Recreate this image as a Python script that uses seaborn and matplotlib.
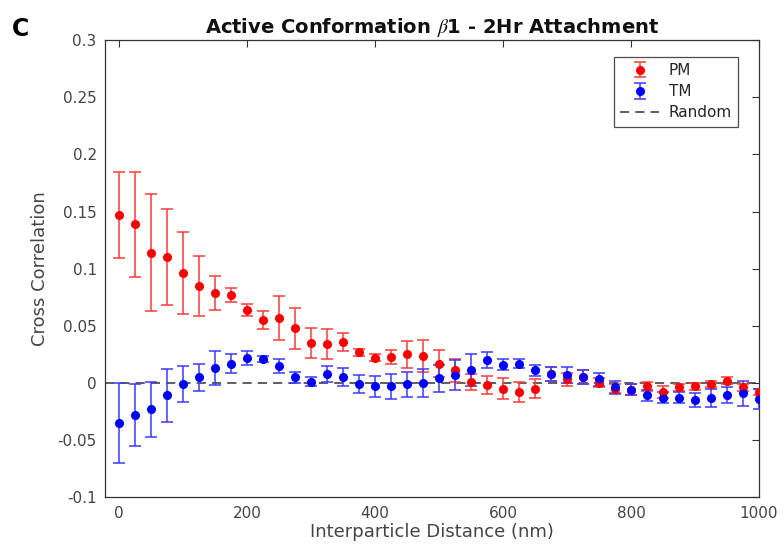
import numpy as np
import pandas as pd
import seaborn as sns
import matplotlib.pyplot as plt
from matplotlib.ticker import FormatStrFormatter

# interparticle distance bins (nm)
distance = [0, 25, 50, 75, 100, 125, 150, 175, 200, 225, 250, 275, 300, 325, 350,
            375, 400, 425, 450, 475, 500, 525, 550, 575, 600, 625, 650, 675, 700,
            725, 750, 775, 800, 825, 850, 875, 900, 925, 950, 975, 1000]

pm_mean = [0.147, 0.139, 0.114, 0.110, 0.096, 0.085, 0.079, 0.077, 0.064, 0.055,
           0.057, 0.048, 0.035, 0.034, 0.036, 0.027, 0.022, 0.023, 0.025, 0.024,
           0.017, 0.011, 0.001, -0.002, -0.005, -0.008, -0.005, 0.008, 0.003, 0.005,
           0.000, -0.005, -0.006, -0.003, -0.008, -0.004, -0.003, -0.001, 0.002,
           -0.004, -0.008]
pm_err = [0.038, 0.046, 0.051, 0.042, 0.036, 0.026, 0.015, 0.006, 0.005, 0.008,
          0.019, 0.018, 0.013, 0.013, 0.008, 0.003, 0.003, 0.006, 0.012, 0.014,
          0.012, 0.010, 0.007, 0.008, 0.009, 0.009, 0.008, 0.006, 0.006, 0.006,
          0.004, 0.004, 0.005, 0.004, 0.005, 0.003, 0.003, 0.003, 0.003, 0.003,
          0.003]

tm_mean = [-0.035, -0.028, -0.023, -0.011, -0.001, 0.005, 0.013, 0.017, 0.022, 0.021,
           0.015, 0.005, 0.001, 0.008, 0.005, -0.001, -0.003, -0.003, -0.001, 0.000,
           0.004, 0.007, 0.011, 0.020, 0.016, 0.017, 0.011, 0.008, 0.007, 0.005,
           0.003, -0.004, -0.006, -0.011, -0.013, -0.013, -0.015, -0.013, -0.011,
           -0.009, -0.014]
tm_err = [0.035, 0.027, 0.024, 0.023, 0.016, 0.012, 0.015, 0.008, 0.006, 0.003,
          0.006, 0.005, 0.004, 0.007, 0.008, 0.008, 0.009, 0.011, 0.011, 0.012,
          0.012, 0.013, 0.014, 0.007, 0.005, 0.004, 0.005, 0.006, 0.007, 0.006,
          0.006, 0.006, 0.005, 0.005, 0.005, 0.005, 0.006, 0.008, 0.007, 0.011,
          0.009]

df = pd.DataFrame({"dist": distance * 2,
                   "corr": pm_mean + tm_mean,
                   "err": pm_err + tm_err,
                   "group": ["PM"] * len(distance) + ["TM"] * len(distance)})

sns.set_style("white")
plt.rcParams['font.family'] = ['DejaVu Sans']
plt.rcParams['mathtext.fontset'] = 'stix'

fig = plt.figure(figsize=(7.84, 5.58), dpi=100)
ax = fig.add_axes([0.134, 0.109, 0.834, 0.819])

colors = {"PM": "#ff0000", "TM": "#0000ff"}
bar_colors = {"PM": "#ff3b3b", "TM": "#3b3bff"}
handles = []
for g in ["PM", "TM"]:
    sub = df[df.group == g]
    h = ax.errorbar(sub["dist"], sub["corr"], yerr=sub["err"], fmt='o',
                    ms=5.5, color=colors[g], ecolor=bar_colors[g], elinewidth=1.1,
                    capsize=4.5, capthick=1.1, label=g, zorder=3)
    sns.scatterplot(data=sub, x="dist", y="corr", color=colors[g], s=28,
                    edgecolor=colors[g], legend=False, ax=ax, zorder=4)
    handles.append(h)

rl = ax.axhline(0, color="#333333", ls=(0, (6, 4)), lw=1.1, zorder=2, label="Random")
handles.append(rl)

ax.set_xlim(-22, 1000)
ax.set_ylim(-0.1, 0.3)
ax.set_xticks([0, 200, 400, 600, 800, 1000])
ax.set_yticks([-0.1, -0.05, 0, 0.05, 0.1, 0.15, 0.2, 0.25, 0.3])
ax.yaxis.set_major_formatter(FormatStrFormatter('%g'))
ax.tick_params(direction='in', top=True, right=True, length=5, width=0.8,
               labelsize=11, labelcolor="#444444", color="#333333", pad=6)
for s in ax.spines.values():
    s.set_visible(True)
    s.set_color("#333333")
    s.set_linewidth(0.9)

ax.set_xlabel("Interparticle Distance (nm)", fontsize=13, color="#444444", labelpad=2)
ax.set_ylabel("Cross Correlation", fontsize=13, color="#444444", labelpad=6)
ax.set_title(r"Active Conformation $\beta$1 - 2Hr Attachment", fontsize=14,
             fontweight='bold', color="#111111", pad=5)
fig.text(0.015, 0.935, "C", fontsize=17, fontweight='bold', color="black")

leg = ax.legend(handles=handles, labels=["PM", "TM", "Random"], loc='upper right',
                bbox_to_anchor=(0.968, 0.963), borderaxespad=0, fontsize=11,
                frameon=True, fancybox=False, edgecolor="#222222", handlelength=2.6,
                borderpad=0.4, labelspacing=0.4, handletextpad=0.6)
leg.get_frame().set_linewidth(0.9)

plt.savefig("out.png", dpi=100)
plt.close()
